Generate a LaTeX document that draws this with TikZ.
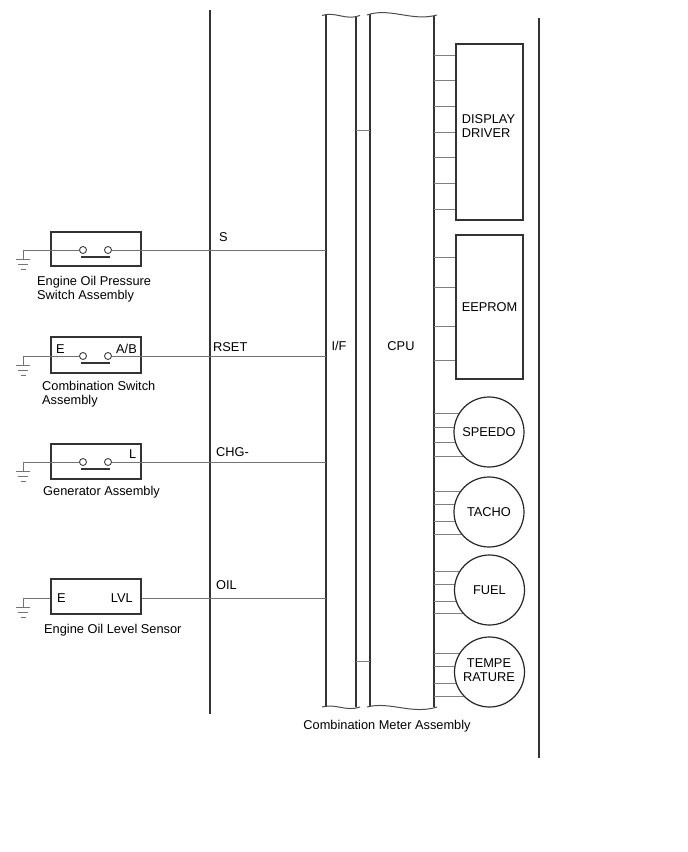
\documentclass[tikz,border=0pt]{standalone}
\usepackage{fontspec}
\setmainfont{Liberation Sans}
\begin{document}
\begin{tikzpicture}[x=1pt,y=-1pt,
  bus/.style={line width=1.6pt, draw=black!80},
  wire/.style={line width=1pt, draw=black!55},
  stub/.style={line width=1pt, draw=black!50},
  box/.style={draw=black!80, line width=1.3pt, fill=white, inner sep=0, rectangle},
  disk/.style={draw=black!85, line width=1.2pt, fill=white, inner sep=0, circle, minimum size=70pt, align=center, font=\fontsize{12.8}{14}\selectfont},
  lbl/.style={font=\fontsize{12.8}{14}\selectfont, inner sep=0},
  contact/.style={circle, draw=black!75, line width=0.9pt, minimum size=7pt, inner sep=0, fill=white},
  gnd/.pic={\draw[wire] (0,0) -- (0,9);
            \draw[wire] (-7,9) -- (7,9);
            \draw[wire] (-5,14) -- (5,14);
            \draw[wire] (-2.5,19) -- (2.5,19);}]
\useasboundingbox (0,0) rectangle (688,852);
\fill[white] (0,0) rectangle (688,852);

% main vertical lines
\coordinate (vtop) at (210,10);
\coordinate (vbot) at (210,714);
\draw[bus] (vtop) -- (vbot);
\coordinate (rtop) at (539,18);
\coordinate (rbot) at (539,758);
\draw[bus] (rtop) -- (rbot);

% I/F column
\coordinate (ifL) at (326,0);
\coordinate (ifR) at (356,0);
\draw[bus] (326,15) -- (326,707);
\draw[bus] (356,16) -- (356,707);
\draw[line width=1pt, draw=black!70] (322,15.5) .. controls (335,11) and (346,21) .. (360,15.5);
\draw[line width=1pt, draw=black!70] (322,707) .. controls (335,703) and (346,712) .. (360,707);
% CPU column
\coordinate (cpuL) at (370,0);
\coordinate (cpuR) at (434,0);
\draw[bus] (370,14) -- (370,707);
\draw[bus] (434,16) -- (434,707);
\draw[line width=1pt, draw=black!70] (367,15) .. controls (390,7) and (412,22) .. (437,15);
\draw[line width=1pt, draw=black!70] (367,707) .. controls (390,701) and (412,715) .. (437,707);
% I/F - CPU links
\draw[stub] (356,130) -- (370,130);
\draw[stub] (356,661) -- (370,661);

\node[lbl] (iflbl) at (339,346) {I/F};
\node[lbl] (cpulbl) at (401,346) {CPU};
\node[lbl] (cma) at (387,726) {Combination Meter Assembly};

% Display driver
\foreach \y in {55,80,106,132,157,183,209} \draw[stub] (434,\y) -- (456,\y);
\node[box, minimum width=67pt, minimum height=176pt] (disp) at (489.5,132) {};
\node[lbl, align=left, font=\fontsize{12.8}{14}\selectfont] (displbl) at (488.5,126) {DISPLAY\\DRIVER};
% EEPROM
\foreach \y in {257,287,326,360} \draw[stub] (434,\y) -- (456,\y);
\node[box, minimum width=67pt, minimum height=144pt, font=\fontsize{12.8}{14}\selectfont] (eep) at (489.5,307) {EEPROM};
% gauges
\foreach \y in {413,427,442,456} \draw[stub] (434,\y) -- (489,\y);
\node[disk] (speedo) at (489,432) {SPEEDO};
\foreach \y in {491,504,521,534} \draw[stub] (434,\y) -- (489,\y);
\node[disk] (tacho) at (489,512) {TACHO};
\foreach \y in {571,584,601,613} \draw[stub] (434,\y) -- (489,\y);
\node[disk] (fuel) at (489.5,590) {FUEL};
\foreach \y in {653,666,683,696} \draw[stub] (434,\y) -- (489,\y);
\node[disk] (temp) at (489.5,672) {};
\node[lbl, align=center] (templbl) at (489,670) {TEMPE\\RATURE};

% ---------- Switch 1: Engine Oil Pressure ----------
\node[box, minimum width=90pt, minimum height=34pt] (sw1) at (96,249) {};
\pic at (23,250) {gnd};
\coordinate (g1) at (23,250);
\node[contact] (c1a) at (83,250) {};
\node[contact] (c1b) at (108,250) {};
\draw[wire] (g1) -- (c1a.west);
\draw[wire] (c1b.east) -- (c1b.east -| ifL);
\draw[line width=1.3pt, draw=black!80] (81,257) -- (110,257);
\node[lbl, anchor=base west] (t1a) at (37,285) {Engine Oil Pressure};
\node[lbl, anchor=base west] (t1b) at (37,299) {Switch Assembly};
\node[lbl, anchor=base west] (sS) at (219,241) {S};

% ---------- Switch 2: Combination switch ----------
\node[box, minimum width=90pt, minimum height=36pt] (sw2) at (96,355) {};
\pic at (23,356) {gnd};
\coordinate (g2) at (23,356);
\node[contact] (c2a) at (83,356) {};
\node[contact] (c2b) at (108,356) {};
\draw[wire] (g2) -- (c2a.west);
\draw[wire] (c2b.east) -- (c2b.east -| ifL);
\draw[line width=1.3pt, draw=black!80] (81,363) -- (110,363);
\node[lbl, anchor=base west] (e2) at (56,353) {E};
\node[lbl, anchor=base east] (ab) at (137,353) {A/B};
\node[lbl, anchor=base west] (t2a) at (42,390) {Combination Switch};
\node[lbl, anchor=base west] (t2b) at (42,404) {Assembly};
\node[lbl, anchor=base west] (sR) at (213,351) {RSET};

% ---------- Switch 3: Generator ----------
\node[box, minimum width=90pt, minimum height=35pt] (sw3) at (96,461.5) {};
\pic at (23,462) {gnd};
\coordinate (g3) at (23,462);
\node[contact] (c3a) at (83,462) {};
\node[contact] (c3b) at (108,462) {};
\draw[wire] (g3) -- (c3a.west);
\draw[wire] (c3b.east) -- (c3b.east -| ifL);
\draw[line width=1.3pt, draw=black!80] (81,469) -- (110,469);
\node[lbl, anchor=base west] (l3) at (129,458) {L};
\node[lbl, anchor=base west] (t3) at (43,495) {Generator Assembly};
\node[lbl, anchor=base west] (sC) at (216,456) {CHG-};

% ---------- Sensor 4: Engine Oil Level ----------
\node[box, minimum width=90pt, minimum height=35pt] (sw4) at (96,596.5) {};
\pic at (23,598) {gnd};
\coordinate (g4) at (23,598);
\draw[wire] (g4) -- (g4 -| sw4.west);
\draw[wire] (sw4.east |- g4) -- (g4 -| ifL);
\node[lbl, anchor=base west] (e4) at (57,602) {E};
\node[lbl, anchor=base east] (lvl) at (133,602) {LVL};
\node[lbl, anchor=base west] (t4) at (44,633) {Engine Oil Level Sensor};
\node[lbl, anchor=base west] (sO) at (216,589) {OIL};
\end{tikzpicture}
\end{document}
